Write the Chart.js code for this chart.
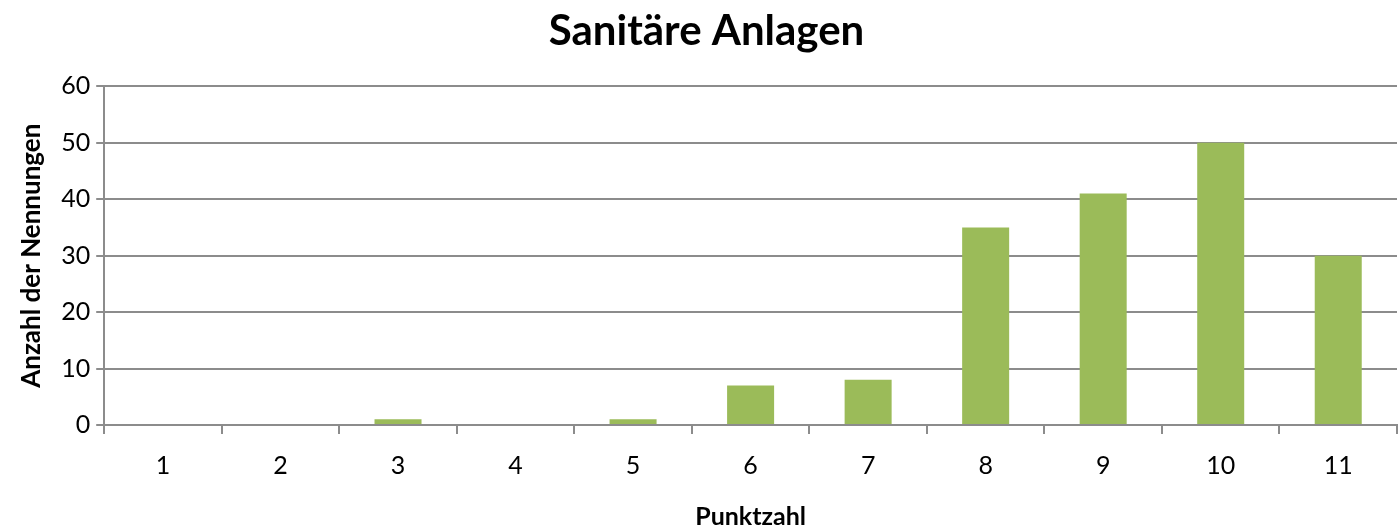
<!DOCTYPE html>
<html><head><meta charset="utf-8">
<script src="https://cdn.jsdelivr.net/npm/chart.js@4/dist/chart.umd.min.js"></script>
<style>html,body{margin:0;padding:0;background:#fff}#wrap{width:1400px;height:526px}</style>
</head><body><div id="wrap"><canvas id="c" width="1400" height="526"></canvas></div>
<script>
const categories = ["1","2","3","4","5","6","7","8","9","10","11"];
const values = [0,0,1,0,1,7,8,35,41,50,30];
const yTicks = [0,10,20,30,40,50,60];
const titleText = "Sanitäre Anlagen";
const xTitle = "Punktzahl";
const yTitle = "Anzahl der Nennungen";
const FONT = "Lato, 'Open Sans', sans-serif";
new Chart(document.getElementById('c'), {
  type: 'bar',
  data: { labels: categories, datasets: [{ data: values, backgroundColor: '#9BBB59', barPercentage: 0.4, categoryPercentage: 1.0 }] },
  options: {
    responsive: false, animation: false,
    layout: { padding: { left: 16, right: 3, top: 0, bottom: -6 } },
    plugins: {
      legend: { display: false }, tooltip: { enabled: false },
      title: { display: true, text: titleText, color: '#000', font: { family: FONT, size: 42, weight: 'bold' }, padding: { top: 6, bottom: 30 } }
    },
    scales: {
      x: {
        grid: { display: true, drawOnChartArea: false, drawTicks: true, tickLength: 9, color: '#8c8c8c', lineWidth: 2, offset: true },
        border: { color: '#8c8c8c', width: 2 },
        ticks: { color: '#000', font: { family: FONT, size: 25 }, padding: 17 },
        title: { display: true, text: xTitle, color: '#000', font: { family: FONT, size: 25, weight: 'bold' }, padding: { top: 4, bottom: 0 } }
      },
      y: {
        min: 0, max: 60,
        afterBuildTicks: (s) => { s.ticks = yTicks.map(v => ({ value: v })); },
        grid: { color: '#8c8c8c', lineWidth: 2, tickLength: 8 },
        border: { color: '#8c8c8c', width: 2 },
        ticks: { color: '#000', font: { family: FONT, size: 25 }, padding: 6 },
        title: { display: true, text: yTitle, color: '#000', font: { family: FONT, size: 26, weight: 'bold' }, padding: { top: 0, bottom: 8 } }
      }
    }
  }
});
</script></body></html>
